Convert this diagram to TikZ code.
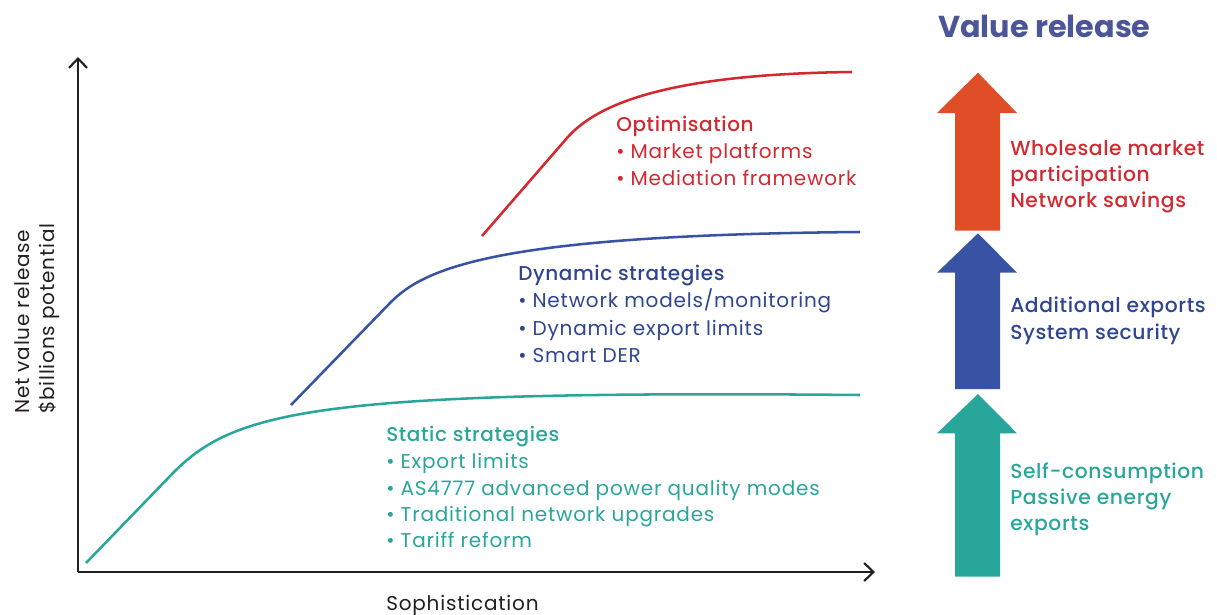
\documentclass[tikz,border=0pt]{standalone}
\usepackage{fontspec}
\setmainfont{Poppins}
\newfontfamily\bodyfont{Poppins}[LetterSpace=4]
\newfontfamily\medfont{Poppins Medium}[LetterSpace=3]
\usetikzlibrary{arrows.meta}
\definecolor{cTeal}{HTML}{29A69A}
\definecolor{cBlue}{HTML}{3953A4}
\definecolor{cBlueTxt}{HTML}{2F4590}
\definecolor{cRed}{HTML}{D42830}
\definecolor{cOrange}{HTML}{E04E28}
\definecolor{cTitle}{HTML}{4B5598}
\definecolor{cAxis}{HTML}{231F20}
\begin{document}
\begin{tikzpicture}[x=0.75pt,y=-0.75pt,
  txt/.style={anchor=base west, inner sep=0pt, font=\bodyfont\fontsize{15}{18}\selectfont},
  hd/.style={anchor=base west, inner sep=0pt, font=\medfont\fontsize{15}{18}\selectfont},
  side/.style={anchor=base west, inner sep=0pt, font=\medfont\fontsize{15.2}{18}\selectfont},
  axis/.style={draw=cAxis, line width=1.6pt, -{Straight Barb[length=7pt,width=13.5pt]}},
  curve/.style={line width=1.9pt}]
\useasboundingbox (0,0) rectangle (1217,614);

% axes
\coordinate (O) at (78,572);
\coordinate (ytop) at (78,57);
\coordinate (xend) at (875,572);
\draw[axis] (O) -- (ytop);
\draw[axis] (O) -- (xend);

\node[txt, text=cAxis, rotate=90] (ylab1) at (29,414) {Net value release};
\node[txt, text=cAxis, rotate=90] (ylab2) at (54,414) {\$billions potential};
\node[txt, text=cAxis] (xlab) at (386,610) {Sophistication};

% curves
\draw[cTeal, curve] (86,563) -- (173,473) .. controls (235,410) and (320,390) .. (860,395);
\draw[cBlue, curve] (291,405) -- (390,303) .. controls (425,267) and (500,235) .. (860,232);
\draw[cRed, curve] (482,236) -- (567,138) .. controls (600,100) and (680,74) .. (852,72);

% optimisation text
\node[hd, text=cRed] (o0) at (616,131) {Optimisation};
\node[txt, text=cRed] (o1) at (616,158) {• Market platforms};
\node[txt, text=cRed] (o2) at (616,185) {• Mediation framework};

% dynamic
\node[hd, text=cBlueTxt] (d0) at (518,280) {Dynamic strategies};
\node[txt, text=cBlueTxt] (d1) at (518,307.5) {• Network models/monitoring};
\node[txt, text=cBlueTxt] (d2) at (518,335) {• Dynamic export limits};
\node[txt, text=cBlueTxt] (d3) at (518,362) {• Smart DER};

% static
\node[hd, text=cTeal] (s0) at (386,441.5) {Static strategies};
\node[txt, text=cTeal] (s1) at (386,468) {• Export limits};
\node[txt, text=cTeal] (s2) at (386,495) {• AS4777 advanced power quality modes};
\node[txt, text=cTeal] (s3) at (386,521.5) {• Traditional network upgrades};
\node[txt, text=cTeal] (s4) at (386,547) {• Tariff reform};

% title
\node[anchor=base west, inner sep=0pt, text=cTitle, font=\bfseries\fontsize{22.7}{26}\selectfont] (title) at (938,37) {Value release};

% right arrows
\fill[cOrange] (955,230.7) -- (955,113) -- (937,113) -- (978,72.7) -- (1017,113) -- (1000,113) -- (1000,230.7) -- cycle;
\fill[cBlue] (955,389) -- (955,272.7) -- (937,272.7) -- (978,233.3) -- (1017,272.7) -- (1000,272.7) -- (1000,389) -- cycle;
\fill[cTeal] (955,576.7) -- (955,433.3) -- (937,433.3) -- (978,394) -- (1017,433.3) -- (1000,433.3) -- (1000,576.7) -- cycle;

% right labels
\node[side, text=cRed] (r1) at (1010,155) {Wholesale market};
\node[side, text=cRed] (r2) at (1010,181) {participation};
\node[side, text=cRed] (r3) at (1010,207) {Network savings};
\node[side, text=cBlueTxt] (b1) at (1010,312.7) {Additional exports};
\node[side, text=cBlueTxt] (b2) at (1010,339) {System security};
\node[side, text=cTeal] (t1) at (1010,478) {Self-consumption};
\node[side, text=cTeal] (t2) at (1010,504) {Passive energy};
\node[side, text=cTeal] (t3) at (1010,530.7) {exports};
\end{tikzpicture}
\end{document}
